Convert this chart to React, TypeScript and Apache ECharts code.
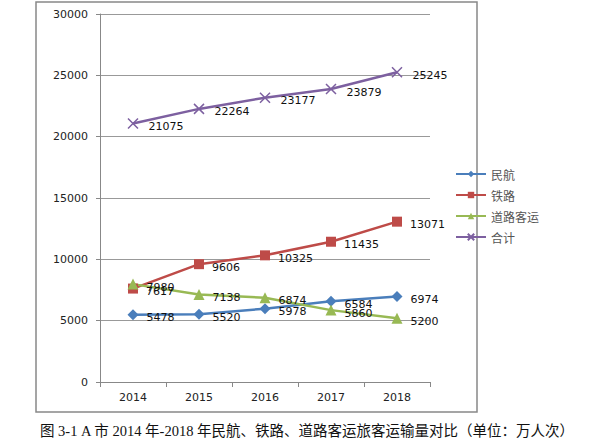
import React, { useEffect, useRef } from "react";
import * as echarts from "echarts";

const years = ["2014", "2015", "2016", "2017", "2018"];
const civilAviation = [5478, 5520, 5978, 6584, 6974];
const railway = [7617, 9606, 10325, 11435, 13071];
const roadPassenger = [7980, 7138, 6874, 5860, 5200];
const total = [21075, 22264, 23177, 23879, 25245];
const seriesNames = ["民航", "铁路", "道路客运", "合计"];
const caption = "图 3-1 A 市 2014 年-2018 年民航、铁路、道路客运旅客运输量对比（单位：万人次）";

const numFont = "'DejaVu Sans', Verdana, sans-serif";

export default function App() {
  const ref = useRef<HTMLDivElement>(null);
  useEffect(() => {
    if (!ref.current) return;
    const chart = echarts.init(ref.current, undefined, { renderer: "svg" });
    const label = {
      show: true,
      position: "right" as const,
      offset: [3, 3],
      color: "#111",
      fontSize: 11,
      fontFamily: numFont,
    };
    const mk = (name: string, data: number[], color: string, symbol: string, size: number) => ({
      name,
      type: "line",
      data,
      symbol,
      symbolSize: size,
      lineStyle: { color, width: 2.5 },
      itemStyle: { color },
      label,
    });
    chart.setOption({
      animation: false,
      backgroundColor: "#fff",
      grid: { left: 100, right: 177, top: 14, bottom: 60, containLabel: false },
      legend: {
        orient: "vertical",
        left: 450,
        top: 163,
        itemWidth: 30,
        itemHeight: 8,
        itemGap: 9,
        textStyle: { fontFamily: "'Noto Sans CJK SC'", fontSize: 12, color: "#555" },
        data: seriesNames,
      },
      xAxis: {
        type: "category",
        data: years,
        boundaryGap: true,
        axisLine: { lineStyle: { color: "#888" } },
        axisTick: { show: true, alignWithLabel: false, lineStyle: { color: "#888" } },
        axisLabel: { color: "#222", fontSize: 11, fontFamily: numFont, margin: 10 },
      },
      yAxis: {
        type: "value",
        min: 0,
        max: 30000,
        interval: 5000,
        axisLine: { show: true, lineStyle: { color: "#888" } },
        axisTick: { show: true, length: 4, lineStyle: { color: "#888" } },
        axisLabel: {
          color: "#222",
          fontSize: 11,
          fontFamily: numFont,
          margin: 12,
          formatter: (v: number) => String(v),
        },
        splitLine: { lineStyle: { color: "#999", width: 1 } },
      },
      graphic: [
        {
          type: "rect",
          shape: { x: 36, y: 2, width: 441, height: 410 },
          style: { fill: "none", stroke: "#888", lineWidth: 1.5 },
          silent: true,
        },
        {
          type: "text",
          x: 307,
          y: 431,
          style: {
            text: caption,
            fill: "#111",
            fontSize: 14.5,
            fontFamily: "'Liberation Serif', 'Noto Sans CJK SC'",
            align: "center",
            verticalAlign: "middle",
          },
        },
      ],
      series: [
        mk(seriesNames[0], civilAviation, "#4A7EBB", "diamond", 11),
        mk(seriesNames[1], railway, "#BE4B48", "rect", 10),
        mk(seriesNames[2], roadPassenger, "#98B954", "triangle", 11),
        {
          ...mk(seriesNames[3], total, "#7D60A0", "path://M0,0L10,10M10,0L0,10", 10),
          itemStyle: { color: "none", borderColor: "#7D60A0", borderWidth: 1.5 },
        },
      ],
    });
    return () => chart.dispose();
  }, []);
  return <div ref={ref} style={{ width: 607, height: 442, position: "absolute", left: 0, top: 0 }} />;
}
